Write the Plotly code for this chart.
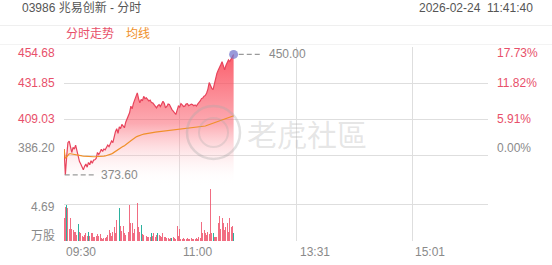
import plotly.graph_objects as go

# ---------------- data ----------------
minutes = list(range(133))  # minutes since 09:30

price = [
    390.0, 373.6, 385.0, 394.0, 395.0, 391.0, 387.8, 391.0, 390.0, 392.5,
    389.0, 384.7, 382.0, 380.5, 378.0, 376.9, 379.0, 380.5, 378.5, 381.5,
    380.0, 382.6, 381.0, 383.0, 383.2, 384.0, 387.8, 386.5, 388.0, 389.9,
    388.5, 390.0, 389.5, 391.0, 392.5, 391.5, 393.0, 395.1, 394.0, 398.0,
    401.0, 402.9, 400.0, 404.0, 403.0, 405.6, 404.5, 403.5, 407.0, 409.0,
    410.8, 413.0, 417.2, 415.5, 419.0, 421.3, 423.0, 425.6, 422.0, 419.3,
    421.5, 420.5, 423.4, 422.0, 422.5, 421.3, 420.5, 421.0, 419.5, 419.3,
    418.0, 417.0, 416.1, 417.5, 418.2, 417.0, 419.0, 420.3, 419.0, 416.1,
    417.0, 418.5, 418.2, 416.0, 415.0, 414.0, 413.0, 411.9, 414.5, 417.2,
    416.5, 418.8, 418.0, 417.0, 417.2, 418.5, 418.8, 417.5, 418.0, 418.5,
    418.2, 417.5, 418.0, 417.2, 418.5, 419.3, 420.5, 422.0, 422.4, 423.5,
    424.0, 425.6, 428.0, 432.2, 430.0, 428.5, 427.7, 431.0, 436.0, 438.0,
    440.0, 442.3, 443.5, 445.4, 442.0, 440.2, 443.0, 445.0, 446.5, 445.5,
    447.6, 448.5, 450.0,
]

avg = [
    390.0, 384.0, 385.0, 386.5, 387.0, 387.0, 386.8, 386.7, 386.6, 386.5,
    386.3, 386.2, 386.0, 385.8, 385.6, 385.5, 385.4, 385.4, 385.3, 385.3,
    385.2, 385.2, 385.2, 385.1, 385.1, 385.1, 385.1, 385.2, 385.2, 385.3,
    385.4, 385.5, 385.6, 385.8, 386.0, 386.2, 386.5, 386.9, 387.4, 388.0,
    388.6, 389.2, 389.7, 390.2, 390.8, 391.3, 391.7, 392.1, 392.6, 393.2,
    393.9, 394.6, 395.3, 396.0, 396.6, 397.1, 397.6, 398.0, 398.4, 398.7,
    399.0, 399.2, 399.4, 399.6, 399.8, 400.0, 400.1, 400.3, 400.4, 400.5,
    400.6, 400.7, 400.8, 400.9, 401.0, 401.1, 401.2, 401.3, 401.4, 401.5,
    401.6, 401.7, 401.8, 401.9, 402.0, 402.1, 402.1, 402.1, 402.2, 402.2,
    402.3, 402.4, 402.5, 402.6, 402.7, 402.8, 402.9, 403.0, 403.1, 403.2,
    403.3, 403.4, 403.5, 403.6, 403.7, 403.8, 403.9, 404.0, 404.2, 404.4,
    404.6, 404.9, 405.2, 405.6, 406.0, 406.3, 406.6, 406.9, 407.2, 407.5,
    407.8, 408.2, 408.5, 408.8, 409.1, 409.3, 409.5, 409.7, 409.9, 410.2,
    410.5, 410.8, 411.0,
]

volume = [  # 万股
    3.0, 4.4, 4.7, 4.25, 1.6, 2.95, 1.5, 1.4, 1.2, 1.2,
    0.8, 2.2, 1.2, 1.0, 0.7, 0.56, 0.8, 1.0, 0.7, 1.2,
    0.6, 1.0, 1.0, 0.5, 0.56, 0.7, 0.9, 0.6, 0.9, 0.35,
    0.3, 0.35, 0.4, 0.56, 0.8, 1.4, 1.0, 0.7, 1.2, 1.87,
    1.0, 2.73, 2.73, 4.25, 1.95, 1.3, 1.95, 1.0, 0.8, 1.87,
    1.2, 4.69, 2.3, 2.3, 1.0, 1.5, 3.6, 4.9, 1.87, 1.2,
    2.1, 0.9, 0.78, 3.17, 0.7, 0.56, 0.56, 0.5, 1.08, 0.6,
    1.0, 0.5, 0.78, 1.08, 0.78, 0.6, 0.56, 1.08, 0.5, 0.56,
    0.4, 0.35, 0.3, 0.35, 0.4, 0.56, 0.35, 0.3, 1.95, 0.6,
    1.5, 0.3, 0.2, 0.35, 0.25, 0.2, 0.35, 0.2, 0.25, 0.35,
    0.2, 0.3, 0.25, 0.35, 0.3, 0.56, 0.4, 2.5, 1.0, 1.4,
    1.0, 0.8, 1.2, 0.9, 6.77, 1.0, 1.0, 0.56, 0.5, 0.56,
    2.3, 3.25, 1.6, 2.95, 2.4, 1.4, 1.87, 2.3, 1.2, 2.95,
    1.87, 1.95, 1.0,
]

down_minutes = [2, 11, 19, 43, 60, 68, 73, 84, 116, 132]  # bars drawn green

prev_close = 386.20
price_ticks = [386.20, 409.03, 431.85, 454.68]
vol_tick = 4.69
vol_max = 6.77
time_ticks = [0, 90, 181, 271, 330]
time_labels = ["09:30", "11:00", "13:31", "15:01"]
hi_idx, lo_idx = 132, 1

# ---------------- styling ----------------
RED = "#e8445c"
RED_TXT = "#e8506a"
GRAY_TXT = "#8a8a8a"
ORANGE = "#f0902a"
GRID = "#dedede"
FONT = "Arial, 'Liberation Sans', 'Noto Sans CJK SC', sans-serif"
W, H = 552, 265


def py(px):  # pixel row -> paper y
    return 1 - px / H


x0, x1 = 64 / W, 488 / W
main_dom = [py(189), py(47)]
vol_dom = [py(241), py(189)]
y_lo = 454.68 - (189 - 47) * (454.68 - 386.20) / (155 - 47)

fig = go.Figure()

# price line with vertical gradient fill
fig.add_trace(go.Scatter(
    x=minutes, y=price, mode="lines",
    line=dict(color=RED, width=1.2),
    fill="tozeroy",
    fillgradient=dict(type="vertical", start=y_lo + 2, stop=454.68,
                      colorscale=[[0, "rgba(255,255,255,0)"],
                                  [0.45, "rgba(250,85,100,0.5)"],
                                  [1, "rgba(250,70,85,0.92)"]]),
    xaxis="x", yaxis="y", hoverinfo="skip",
))
# average line
fig.add_trace(go.Scatter(
    x=minutes, y=avg, mode="lines",
    line=dict(color=ORANGE, width=1.2), xaxis="x", yaxis="y", hoverinfo="skip",
))
# last point marker
fig.add_trace(go.Scatter(
    x=[minutes[hi_idx]], y=[price[hi_idx]], mode="markers",
    marker=dict(size=9, color="rgba(120,120,205,0.75)"),
    xaxis="x", yaxis="y", hoverinfo="skip",
))
# dashed high / low leaders
fig.add_trace(go.Scatter(
    x=[minutes[hi_idx] + 4, minutes[hi_idx] + 21], y=[price[hi_idx]] * 2,
    mode="lines", line=dict(color="#9a9a9a", width=1.3, dash="5px,3px"),
    xaxis="x", yaxis="y", hoverinfo="skip",
))
fig.add_trace(go.Scatter(
    x=[minutes[lo_idx] - 0.5, minutes[lo_idx] + 23], y=[price[lo_idx]] * 2,
    mode="lines", line=dict(color="#9a9a9a", width=1.3, dash="5px,3px"),
    xaxis="x", yaxis="y", hoverinfo="skip",
))
# volume bars
vol_colors = ["rgba(20,168,148,0.9)" if m in down_minutes else "rgba(238,84,108,0.85)"
              for m in minutes]
fig.add_trace(go.Bar(
    x=minutes, y=volume, marker=dict(color=vol_colors, line=dict(width=0)),
    width=0.75, xaxis="x", yaxis="y2", hoverinfo="skip",
))

ann = []
# left price labels and right percent labels
shifts = {386.20: 7, 409.03: 0, 431.85: 0, 454.68: -6}
for p in price_ticks:
    pct = (p / prev_close - 1) * 100
    col = GRAY_TXT if abs(pct) < 0.005 else RED_TXT
    ann.append(dict(x=57 / W, xref="paper", y=p, yref="y", text=f"{p:.2f}",
                    xanchor="right", yanchor="middle", yshift=shifts[p], showarrow=False,
                    font=dict(size=12, color=col, family=FONT)))
    ann.append(dict(x=495 / W, xref="paper", y=p, yref="y", text=f"{pct:.2f}%",
                    xanchor="left", yanchor="middle", yshift=shifts[p], showarrow=False,
                    font=dict(size=12, color=col, family=FONT)))
# volume labels
ann.append(dict(x=57 / W, xref="paper", y=vol_tick, yref="y2", text=f"{vol_tick:.2f}",
                xanchor="right", yanchor="middle", yshift=-2, showarrow=False,
                font=dict(size=12, color=GRAY_TXT, family=FONT)))
ann.append(dict(x=57 / W, xref="paper", y=py(235.5), yref="paper", text="万股",
                xanchor="right", yanchor="middle", showarrow=False,
                font=dict(size=12, color=GRAY_TXT, family=FONT)))
# time labels
for t, lab in zip(time_ticks, time_labels):
    ann.append(dict(x=t, xref="x", y=py(251.5), yref="paper", text=lab,
                    xanchor="left", yanchor="middle", xshift=1 if t else 0, showarrow=False,
                    font=dict(size=12, color=GRAY_TXT, family=FONT)))
# high / low value labels
ann.append(dict(x=minutes[hi_idx] + 26, xref="x", y=price[hi_idx], yref="y",
                text=f"{price[hi_idx]:.2f}", xanchor="left", yanchor="middle", showarrow=False,
                font=dict(size=12, color=GRAY_TXT, family=FONT)))
ann.append(dict(x=minutes[lo_idx] + 26, xref="x", y=price[lo_idx], yref="y",
                text=f"{price[lo_idx]:.2f}", xanchor="left", yanchor="middle", showarrow=False,
                font=dict(size=12, color=GRAY_TXT, family=FONT)))
# header
ann.append(dict(x=20 / W, xref="paper", y=py(8), yref="paper", text="03986 兆易创新 - 分时",
                xanchor="left", yanchor="middle", showarrow=False,
                font=dict(size=12, color="#555555", family=FONT)))
ann.append(dict(x=535 / W, xref="paper", y=py(8), yref="paper",
                text="2026-02-24\u00a0\u00a011:41:40",
                xanchor="right", yanchor="middle", showarrow=False,
                font=dict(size=12, color="#555555", family=FONT)))
ann.append(dict(x=64 / W, xref="paper", y=py(34.5), yref="paper", text="分时走势",
                xanchor="left", yanchor="middle", showarrow=False,
                font=dict(size=12, color=RED_TXT, family=FONT)))
ann.append(dict(x=124 / W, xref="paper", y=py(34.5), yref="paper", text="均线",
                xanchor="left", yanchor="middle", showarrow=False,
                font=dict(size=12, color=ORANGE, family=FONT)))
# watermark
ann.append(dict(x=307 / W, xref="paper", y=py(133), yref="paper", text="老虎社區",
                xanchor="center", yanchor="middle", showarrow=False,
                font=dict(size=30, color="rgba(175,175,175,0.32)",
                          family="'Noto Sans CJK TC', 'Noto Sans CJK SC', sans-serif")))

shapes = [
    dict(type="line", xref="paper", yref="paper", x0=0, x1=1, y0=py(25.5), y1=py(25.5),
         line=dict(color="#efefef", width=1)),
    dict(type="line", xref="paper", yref="paper", x0=0, x1=1, y0=py(44.5), y1=py(44.5),
         line=dict(color="#f3f3f3", width=1)),
    dict(type="circle", xref="paper", yref="paper", layer="above",
         x0=187 / W, x1=240 / W, y0=py(159), y1=py(106),
         line=dict(color="rgba(170,170,170,0.35)", width=2.5)),
    dict(type="circle", xref="paper", yref="paper", layer="above",
         x0=199 / W, x1=228 / W, y0=py(147), y1=py(118),
         line=dict(color="rgba(170,170,170,0.28)", width=2)),
]

fig.update_layout(
    width=W, height=H, margin=dict(l=0, r=0, t=0, b=0),
    paper_bgcolor="white", plot_bgcolor="rgba(0,0,0,0)",
    showlegend=False, bargap=0,
    xaxis=dict(domain=[x0, x1], range=[-0.05, 330.05], anchor="y2",
               tickmode="array", tickvals=time_ticks, showticklabels=False,
               showgrid=True, gridcolor=GRID, gridwidth=1, zeroline=False, ticks=""),
    yaxis=dict(domain=main_dom, range=[y_lo, 454.72], anchor="x",
               tickmode="array", tickvals=price_ticks, showticklabels=False,
               showgrid=True, gridcolor=GRID, gridwidth=1, zeroline=False, ticks=""),
    yaxis2=dict(domain=vol_dom, range=[-0.01, vol_max], anchor="x",
                tickmode="array", tickvals=[0, vol_tick], showticklabels=False,
                showgrid=True, gridcolor=GRID, gridwidth=1, zeroline=False, ticks=""),
    annotations=ann, shapes=shapes,
)

fig.write_html("out.html")
